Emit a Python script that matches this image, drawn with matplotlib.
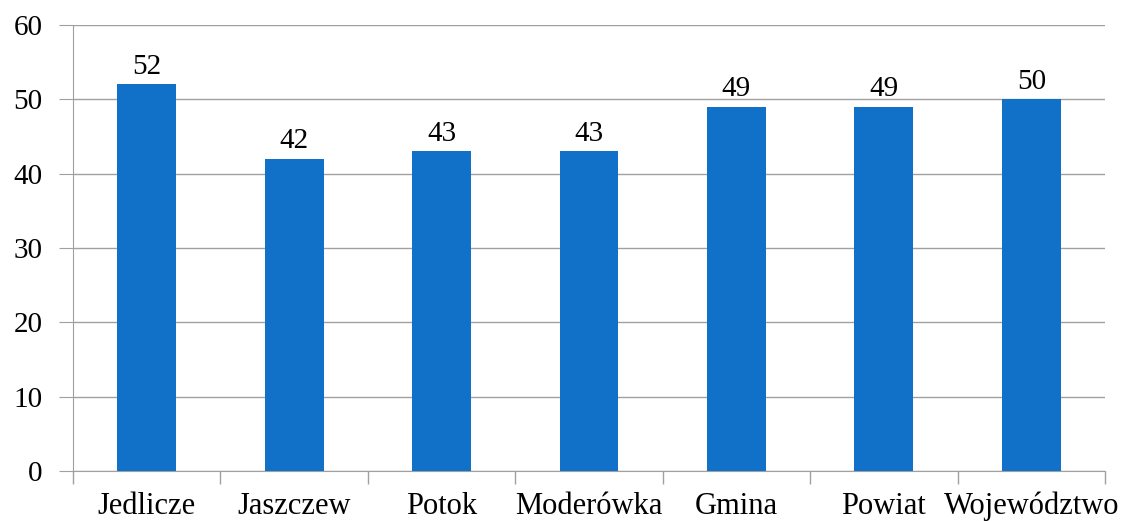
import matplotlib.pyplot as plt

categories = ["Jedlicze", "Jaszczew", "Potok", "Moderówka", "Gmina", "Powiat", "Województwo"]
values = [52, 42, 43, 43, 49, 49, 50]

plt.rcParams['font.family'] = ['Liberation Serif', 'DejaVu Serif']

fig = plt.figure(figsize=(11.34, 5.21), dpi=100)
ax = fig.add_axes([0.0644, 0.096, 0.910, 0.856])

x = range(len(categories))
bars = ax.bar(x, values, width=0.4, color="#1170C8", zorder=3)
for xi, v in zip(x, values):
  ax.text(xi, v + 0.6, str(v), ha="center", va="bottom", fontsize=21)

ax.set_xlim(-0.5, len(categories) - 0.5)
ax.set_ylim(0, 60)
ax.set_yticks(range(0, 61, 10))
ax.yaxis.grid(True, color="#A0A0A0", linewidth=1, zorder=0)
ax.tick_params(axis="y", length=10, color="#A0A0A0", labelsize=21, pad=12)

ax.set_xticks(x)
ax.set_xticklabels(categories, fontsize=22)
ax.set_xticks([i - 0.5 for i in range(len(categories) + 1)], minor=True)
ax.tick_params(axis="x", which="major", length=0, pad=15)
ax.tick_params(axis="x", which="minor", length=9, color="#A0A0A0", width=1)

for side in ["top", "right"]:
  ax.spines[side].set_visible(False)
ax.spines["left"].set_color("#A0A0A0")
ax.spines["bottom"].set_color("#A0A0A0")

fig.savefig("out.png", dpi=100)
